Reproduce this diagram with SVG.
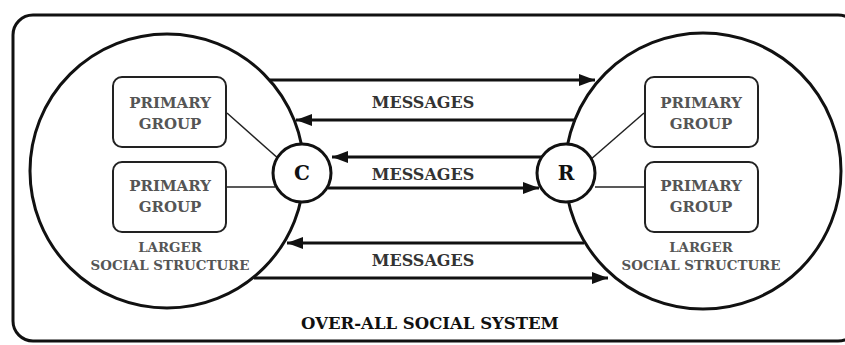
<svg xmlns="http://www.w3.org/2000/svg" width="845" height="345" viewBox="0 0 845 345">
<style>
.frame{fill:none;stroke:#111;stroke-width:3}
.big{fill:#fff;stroke:#111;stroke-width:3}
.small{fill:#fff;stroke:#111;stroke-width:3}
.box{fill:#fff;stroke:#222;stroke-width:2}
.link{stroke:#222;stroke-width:1.5}
.arr{stroke:#111;stroke-width:3;fill:none}
.t{text-anchor:middle;fill:#555;font-weight:bold}
.pg{font-size:15px}
.ls{font-size:13.4px}
.msg{font-size:16px;fill:#333}
.cr{font-size:20px;fill:#111}
.title{font-size:16.5px;fill:#111}
</style>
<defs>
<marker id="ah" markerUnits="userSpaceOnUse" markerWidth="18" markerHeight="14" refX="16" refY="6" orient="auto">
<path d="M0,0 L16,6 L0,12 Z" fill="#111"/>
</marker>
</defs>
<rect id="system" class="frame" x="13" y="15" width="845" height="326" rx="20"/>
<g font-family="'DejaVu Serif', 'Liberation Serif', serif">
<g id="left-structure">
<circle class="big" cx="167" cy="171" r="137"/>
<text class="t ls" x="170" y="252">LARGER</text>
<text class="t ls" x="170" y="270">SOCIAL STRUCTURE</text>
</g>
<g id="right-structure">
<circle class="big" cx="703" cy="171" r="138"/>
<text class="t ls" x="701" y="252">LARGER</text>
<text class="t ls" x="701" y="270">SOCIAL STRUCTURE</text>
</g>
<g id="connectors">
<line class="link" x1="227" y1="113" x2="280" y2="160"/>
<line class="link" x1="227" y1="187" x2="275" y2="187"/>
<line class="link" x1="644" y1="113" x2="590" y2="160"/>
<line class="link" x1="644" y1="187" x2="595" y2="187"/>
<line class="arr" x1="270" y1="80" x2="595" y2="80" marker-end="url(#ah)"/>
<line class="arr" x1="576" y1="120" x2="296" y2="120" marker-end="url(#ah)"/>
<line class="arr" x1="542" y1="157" x2="332" y2="157" marker-end="url(#ah)"/>
<line class="arr" x1="328" y1="188" x2="539" y2="188" marker-end="url(#ah)"/>
<line class="arr" x1="584" y1="243" x2="287" y2="243" marker-end="url(#ah)"/>
<line class="arr" x1="254" y1="278" x2="608" y2="278" marker-end="url(#ah)"/>
</g>
<g id="msg-labels">
<text class="t msg" x="423" y="108">MESSAGES</text>
<text class="t msg" x="423" y="180">MESSAGES</text>
<text class="t msg" x="423" y="266">MESSAGES</text>
</g>
<g id="pg-left-1">
<rect class="box" x="113" y="77" width="113" height="70" rx="9"/>
<text class="t pg" x="170" y="108">PRIMARY</text>
<text class="t pg" x="170" y="129">GROUP</text>
</g>
<g id="pg-left-2">
<rect class="box" x="113" y="162" width="113" height="70" rx="9"/>
<text class="t pg" x="170" y="191">PRIMARY</text>
<text class="t pg" x="170" y="212">GROUP</text>
</g>
<g id="pg-right-1">
<rect class="box" x="645" y="77" width="113" height="70" rx="9"/>
<text class="t pg" x="701" y="108">PRIMARY</text>
<text class="t pg" x="701" y="129">GROUP</text>
</g>
<g id="pg-right-2">
<rect class="box" x="645" y="162" width="113" height="70" rx="9"/>
<text class="t pg" x="701" y="191">PRIMARY</text>
<text class="t pg" x="701" y="212">GROUP</text>
</g>
<g id="node-C">
<circle class="small" cx="302" cy="173" r="29"/>
<text class="t cr" x="302" y="180">C</text>
</g>
<g id="node-R">
<circle class="small" cx="566" cy="173" r="29"/>
<text class="t cr" x="566" y="180">R</text>
</g>
<g id="title">
<text class="t title" x="430" y="329">OVER-ALL SOCIAL SYSTEM</text>
</g>
</g>
</svg>
